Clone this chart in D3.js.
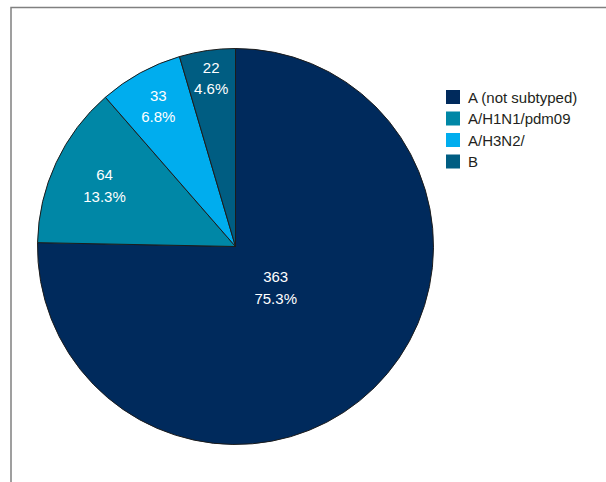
<!DOCTYPE html>
<html>
<head>
<meta charset="utf-8">
<script src="https://cdn.jsdelivr.net/npm/d3@7"></script>
<style>
  body { margin: 0; background: #fff; }
  svg { display: block; }
  text { font-family: "Liberation Sans", Arial, sans-serif; }
</style>
</head>
<body>
<svg id="chart" width="606" height="482"></svg>
<script>
// influenza types, counts per slice (clockwise from 12 o'clock)
var categories = ["A (not subtyped)", "A/H1N1/pdm09", "A/H3N2/", "B"];
var counts = [363, 64, 33, 22];
var percentLabels = ["75.3%", "13.3%", "6.8%", "4.6%"];
var colors = ["#002a5c", "#0087a6", "#00adee", "#005d82"];

// layout
var cx = 235.5, cy = 246.5, radius = 198;
var labelRadius = [0.29, 0.73, 0.81, 0.86]; // fraction of radius, per slice

var svg = d3.select("#chart");

// frame (only top and left edges are visible)
svg.append("path")
    .attr("d", "M11,482 V7.5 H606")
    .attr("fill", "none")
    .attr("stroke", "#808080")
    .attr("stroke-width", 1.5);

var pie = d3.pie().sort(null).value(function (d) { return d; });
var arcs = pie(counts);

var arc = d3.arc().innerRadius(0).outerRadius(radius);

var g = svg.append("g").attr("transform", "translate(" + cx + "," + cy + ")");

g.selectAll("path.slice")
    .data(arcs)
    .enter().append("path")
    .attr("class", "slice")
    .attr("d", arc)
    .attr("fill", function (d, i) { return colors[i]; })
    .attr("stroke", "#1c1c1c")
    .attr("stroke-width", 1);

// slice labels: count + percent
var labels = g.selectAll("text.lbl")
    .data(arcs)
    .enter().append("text")
    .attr("class", "lbl")
    .attr("text-anchor", "middle")
    .attr("fill", "#ffffff")
    .attr("font-size", 15)
    .attr("transform", function (d, i) {
        var r = radius * labelRadius[i];
        var c = d3.arc().innerRadius(r).outerRadius(r).centroid(d);
        return "translate(" + c[0] + "," + c[1] + ")";
    });

labels.append("tspan")
    .attr("x", 0)
    .attr("y", -5)
    .text(function (d) { return d.data; });

labels.append("tspan")
    .attr("x", 0)
    .attr("y", 16.5)
    .text(function (d, i) { return percentLabels[i]; });

// legend
var legend = svg.append("g").attr("transform", "translate(446,90)");
var rowH = 21.5;

var items = legend.selectAll("g.item")
    .data(categories)
    .enter().append("g")
    .attr("class", "item")
    .attr("transform", function (d, i) { return "translate(0," + (i * rowH) + ")"; });

items.append("rect")
    .attr("width", 14)
    .attr("height", 14)
    .attr("fill", function (d, i) { return colors[i]; });

items.append("text")
    .attr("x", 22)
    .attr("y", 12.5)
    .attr("font-size", 15)
    .attr("fill", "#231f20")
    .text(function (d) { return d; });
</script>
</body>
</html>
